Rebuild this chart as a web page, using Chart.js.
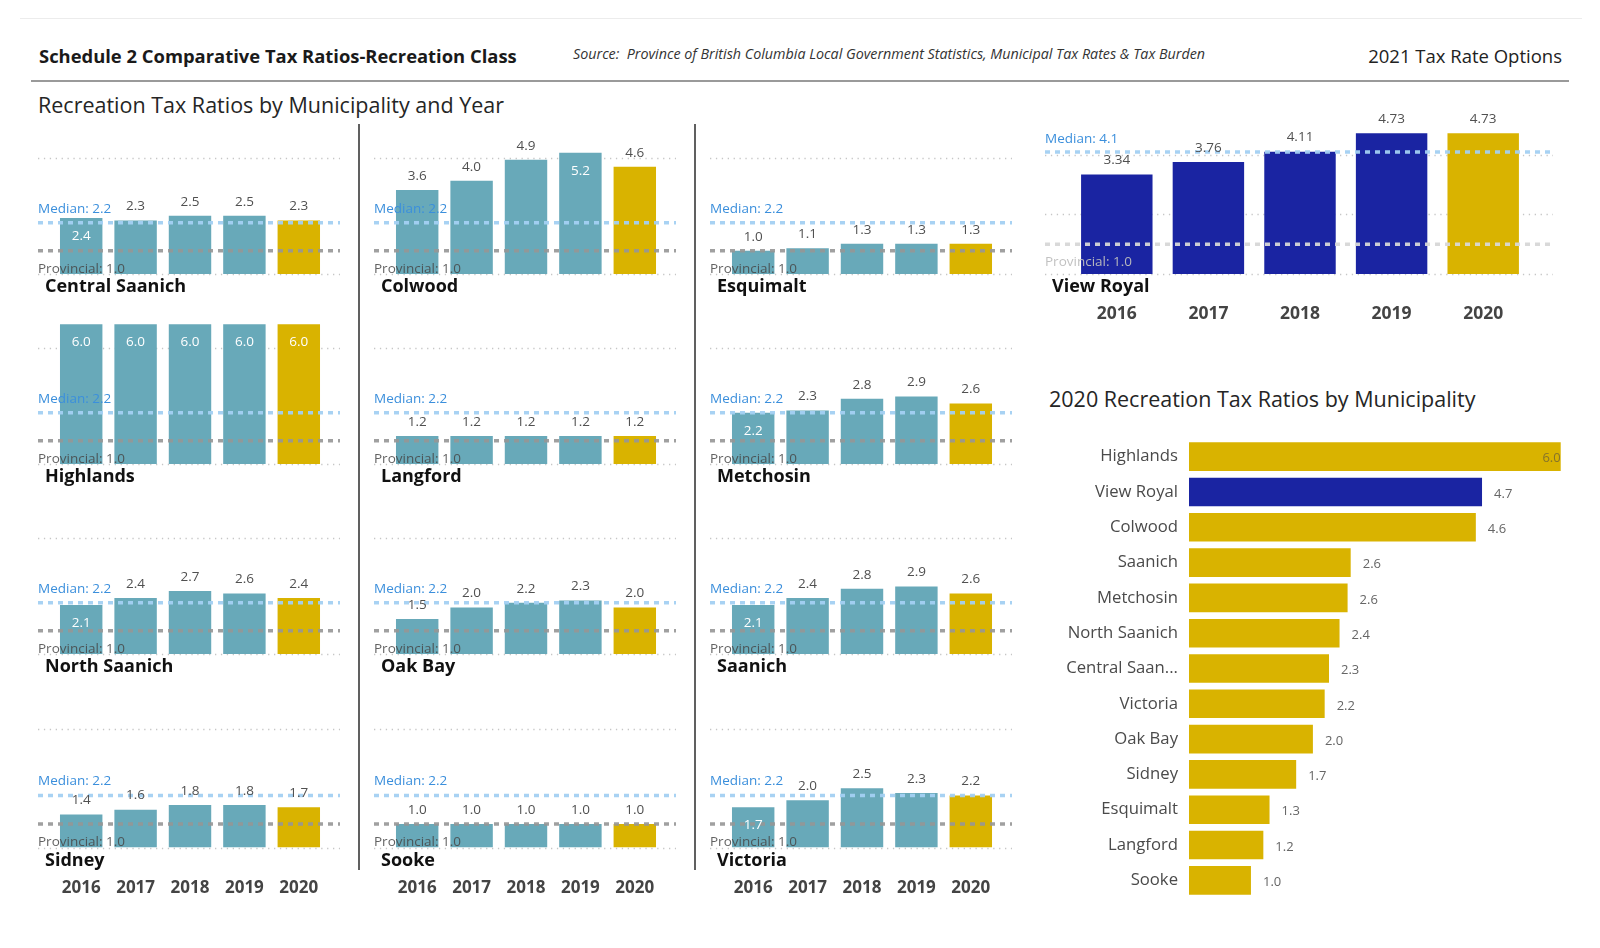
<!DOCTYPE html>
<html>
<head>
<meta charset="utf-8">
<script src="https://cdn.jsdelivr.net/npm/chart.js@4.4.1/dist/chart.umd.min.js"></script>
<style>
  body { margin: 0; background: #fff; font-family: 'Open Sans', sans-serif; }
  #page { position: relative; width: 1600px; height: 948px; overflow: hidden; }
  .t { position: absolute; white-space: nowrap; color: #222; }
  .ln { position: absolute; }
  canvas { position: absolute; }
</style>
</head>
<body>
<div id="page">
  <div class="ln" style="left:20px;top:18px;width:1562px;height:1px;background:#ececec"></div>
  <div class="t" style="left:39px;top:44px;font-size:18.4px;line-height:24px;font-weight:700;color:#1a1a1a">Schedule 2 Comparative Tax Ratios-Recreation Class</div>
  <div class="t" style="left:573px;top:44px;font-size:14.3px;line-height:19px;font-style:italic;color:#333">Source:&nbsp; Province of British Columbia Local Government Statistics, Municipal Tax Rates &amp; Tax Burden</div>
  <div class="t" style="right:38px;top:44px;font-size:18.5px;line-height:24px;color:#222">2021 Tax Rate Options</div>
  <div class="ln" style="left:31px;top:80px;width:1538px;height:2px;background:#9a9a9a"></div>
  <div class="t" style="left:38px;top:91px;font-size:21.5px;line-height:28px;color:#252525">Recreation Tax Ratios by Municipality and Year</div>
  <div class="ln" style="left:358px;top:124px;width:2px;height:746px;background:#606060"></div>
  <div class="ln" style="left:694px;top:124px;width:2px;height:746px;background:#606060"></div>
  <div class="t" style="left:1049px;top:385px;font-size:21.5px;line-height:28px;color:#252525">2020 Recreation Tax Ratios by Municipality</div>
</div>
<script>
// ---- data ----
const years = ['2016', '2017', '2018', '2019', '2020'];
const centralSaanich = [2.4, 2.3, 2.5, 2.5, 2.3];
const colwood = [3.6, 4.0, 4.9, 5.2, 4.6];
const esquimalt = [1.0, 1.1, 1.3, 1.3, 1.3];
const highlands = [6.0, 6.0, 6.0, 6.0, 6.0];
const langford = [1.2, 1.2, 1.2, 1.2, 1.2];
const metchosin = [2.2, 2.3, 2.8, 2.9, 2.6];
const northSaanich = [2.1, 2.4, 2.7, 2.6, 2.4];
const oakBay = [1.5, 2.0, 2.2, 2.3, 2.0];
const saanich = [2.1, 2.4, 2.8, 2.9, 2.6];
const sidney = [1.4, 1.6, 1.8, 1.8, 1.7];
const sooke = [1.0, 1.0, 1.0, 1.0, 1.0];
const victoria = [1.7, 2.0, 2.5, 2.3, 2.2];
const viewRoyal = [3.34, 3.76, 4.11, 4.73, 4.73];

const groupMedian = 2.2;
const viewRoyalMedian = 4.1;
const provincial = 1.0;

const rankNames = ['Highlands', 'View Royal', 'Colwood', 'Saanich', 'Metchosin', 'North Saanich',
  'Central Saan...', 'Victoria', 'Oak Bay', 'Sidney', 'Esquimalt', 'Langford', 'Sooke'];
const rank2020 = [6.0, 4.73, 4.63, 2.61, 2.56, 2.43, 2.26, 2.19, 2.0, 1.73, 1.3, 1.2, 1.0];

// grid order of the small multiples, rows of three
const panels = [
  ['Central Saanich', centralSaanich], ['Colwood', colwood], ['Esquimalt', esquimalt],
  ['Highlands', highlands], ['Langford', langford], ['Metchosin', metchosin],
  ['North Saanich', northSaanich], ['Oak Bay', oakBay], ['Saanich', saanich],
  ['Sidney', sidney], ['Sooke', sooke], ['Victoria', victoria]
];
// which bar labels sit inside the bar
const insideLabels = { 'Central Saanich': [0], 'Colwood': [3], 'Highlands': [0, 1, 2, 3, 4],
  'Metchosin': [0], 'North Saanich': [0], 'Saanich': [0], 'Victoria': [0] };

// ---- look ----
const FONT = "'Open Sans', sans-serif";
const teal = '#68a9b9', gold = '#d9b300', navy = '#1a24a2';
const page = document.getElementById('page');

const panelDecor = {
  id: 'panelDecor',
  beforeDatasetsDraw(chart, args, o) {
    const ctx = chart.ctx, y = chart.scales.y;
    ctx.save();
    ctx.strokeStyle = '#c6c6c6';
    ctx.lineWidth = 1.3;
    ctx.setLineDash([1.3, 4.6]);
    o.grid.forEach(v => {
      const py = Math.round(y.getPixelForValue(v)) + 0.5;
      ctx.beginPath(); ctx.moveTo(0, py); ctx.lineTo(o.lineEnd, py); ctx.stroke();
    });
    ctx.restore();
  },
  afterDatasetsDraw(chart, args, o) {
    const ctx = chart.ctx, y = chart.scales.y;
    const my = y.getPixelForValue(o.median), py = y.getPixelForValue(o.provincial);
    ctx.save();
    ctx.lineWidth = 3.5;
    ctx.setLineDash([5, 5]);
    ctx.strokeStyle = o.medianLine;
    ctx.beginPath(); ctx.moveTo(0, my); ctx.lineTo(o.lineEnd, my); ctx.stroke();
    ctx.strokeStyle = o.provLine;
    ctx.beginPath(); ctx.moveTo(0, py); ctx.lineTo(o.lineEnd, py); ctx.stroke();
    ctx.setLineDash([]);

    ctx.textBaseline = 'middle';
    ctx.textAlign = 'left';
    ctx.font = '13.5px ' + FONT;
    ctx.fillStyle = '#3b8fdc';
    ctx.fillText('Median: ' + o.median.toFixed(1), 0, my + o.medianDy);
    ctx.fillStyle = o.provText;
    ctx.fillText('Provincial: ' + o.provincial.toFixed(1), 0, py + 18);

    const data = chart.data.datasets[0].data;
    ctx.textAlign = 'center';
    chart.getDatasetMeta(0).data.forEach((bar, i) => {
      const inside = o.inside.includes(i);
      ctx.fillStyle = inside ? '#ffffff' : '#505050';
      ctx.fillText(data[i].toFixed(o.decimals), bar.x, inside ? bar.y + 18 : bar.y - 14);
    });

    ctx.textAlign = 'left';
    ctx.fillStyle = '#111';
    ctx.font = 'bold 18px ' + FONT;
    ctx.fillText(o.name, 7, y.getPixelForValue(0) + 13);
    ctx.restore();
  }
};

function addCanvas(left, top, w, h) {
  const c = document.createElement('canvas');
  c.width = w; c.height = h;
  c.style.left = left + 'px'; c.style.top = top + 'px';
  c.style.width = w + 'px'; c.style.height = h + 'px';
  page.appendChild(c);
  return c;
}

// keep the year axis from eating into the plot width
function noSidePadding(s) { s.paddingLeft = 0; s.paddingRight = 0; }

// ---- small multiples ----
const colX = [38, 374, 710];
const rowBase = [274, 464, 654, 845];
const plotH = 145, unitPx = 23.3;

panels.forEach(([name, values], k) => {
  const col = k % 3, row = Math.floor(k / 3);
  const last = row === 3;
  const h = last ? plotH + 83 : plotH + 28;
  const c = addCanvas(colX[col], rowBase[row] - plotH, 303, h);
  new Chart(c, {
    type: 'bar',
    data: {
      labels: years,
      datasets: [{
        data: values,
        backgroundColor: values.map((v, i) => i === values.length - 1 ? gold : teal),
        barPercentage: 0.78,
        categoryPercentage: 1
      }]
    },
    options: {
      responsive: false,
      animation: false,
      layout: { padding: { left: 16, right: 15, top: 0, bottom: last ? 0 : 28 } },
      plugins: {
        legend: { display: false },
        tooltip: { enabled: false },
        panelDecor: {
          name: name, median: groupMedian, provincial: provincial, grid: [0, 5],
          inside: insideLabels[name] || [], decimals: 1, lineEnd: 302, medianDy: -14,
          medianLine: 'rgba(163,208,242,0.95)', provLine: 'rgba(150,150,150,0.9)', provText: 'rgba(70,70,70,0.85)'
        }
      },
      scales: {
        y: { display: false, min: 0, max: plotH / unitPx },
        x: {
          display: last,
          grid: { display: false, drawTicks: false },
          border: { display: false },
          ticks: { padding: 30, color: '#444', font: { family: FONT, size: 17, weight: 'bold' } },
          afterFit: noSidePadding
        }
      }
    },
    plugins: [panelDecor]
  });
});

// ---- View Royal ----
{
  const base = 273, vrH = 174, vrUnit = 29.6;
  const c = addCanvas(1045, base - vrH, 508, vrH + 82);
  new Chart(c, {
    type: 'bar',
    data: {
      labels: years,
      datasets: [{
        data: viewRoyal,
        backgroundColor: viewRoyal.map((v, i) => i === viewRoyal.length - 1 ? gold : navy),
        barPercentage: 0.78,
        categoryPercentage: 1
      }]
    },
    options: {
      responsive: false,
      animation: false,
      layout: { padding: { left: 26, right: 24, top: 0, bottom: 0 } },
      plugins: {
        legend: { display: false },
        tooltip: { enabled: false },
        panelDecor: {
          name: 'View Royal', median: viewRoyalMedian, provincial: provincial, grid: [0, 2, 4],
          inside: [], decimals: 2, lineEnd: 508, medianDy: -13,
          medianLine: 'rgba(163,208,242,0.95)', provLine: 'rgba(215,215,215,0.95)', provText: 'rgba(190,190,190,0.95)'
        }
      },
      scales: {
        y: { display: false, min: 0, max: vrH / vrUnit },
        x: {
          grid: { display: false, drawTicks: false },
          border: { display: false },
          ticks: { padding: 30, color: '#444', font: { family: FONT, size: 17.5, weight: 'bold' } },
          afterFit: noSidePadding
        }
      }
    },
    plugins: [panelDecor]
  });
}

// ---- 2020 ranking ----
const hbarLabels = {
  id: 'hbarLabels',
  afterDatasetsDraw(chart) {
    const ctx = chart.ctx, data = chart.data.datasets[0].data;
    ctx.save();
    ctx.font = '13px ' + FONT;
    ctx.textBaseline = 'middle';
    chart.getDatasetMeta(0).data.forEach((bar, i) => {
      const txt = data[i].toFixed(1);
      const w = ctx.measureText(txt).width;
      if (bar.x + 12 + w > chart.chartArea.right) {
        ctx.textAlign = 'right'; ctx.fillStyle = '#86742a';
        ctx.fillText(txt, bar.x, bar.y + 2);
      } else {
        ctx.textAlign = 'left'; ctx.fillStyle = '#666';
        ctx.fillText(txt, bar.x + 12, bar.y + 2);
      }
    });
    ctx.restore();
  }
};
{
  const c = addCanvas(1040, 439, 530, 459);
  new Chart(c, {
    type: 'bar',
    data: {
      labels: rankNames,
      datasets: [{
        data: rank2020,
        backgroundColor: rankNames.map(n => n === 'View Royal' ? navy : gold),
        barPercentage: 0.81,
        categoryPercentage: 1
      }]
    },
    options: {
      indexAxis: 'y',
      responsive: false,
      animation: false,
      plugins: { legend: { display: false }, tooltip: { enabled: false } },
      scales: {
        x: { display: false, min: 0, max: 6.15 },
        y: {
          grid: { display: false, drawTicks: false },
          border: { display: false },
          ticks: { padding: 11, color: '#4a4a4a', font: { family: FONT, size: 16.7 } },
          afterFit(s) { s.width = 149; s.paddingTop = 0; s.paddingBottom = 0; }
        }
      }
    },
    plugins: [hbarLabels]
  });
}
</script>
</body>
</html>
